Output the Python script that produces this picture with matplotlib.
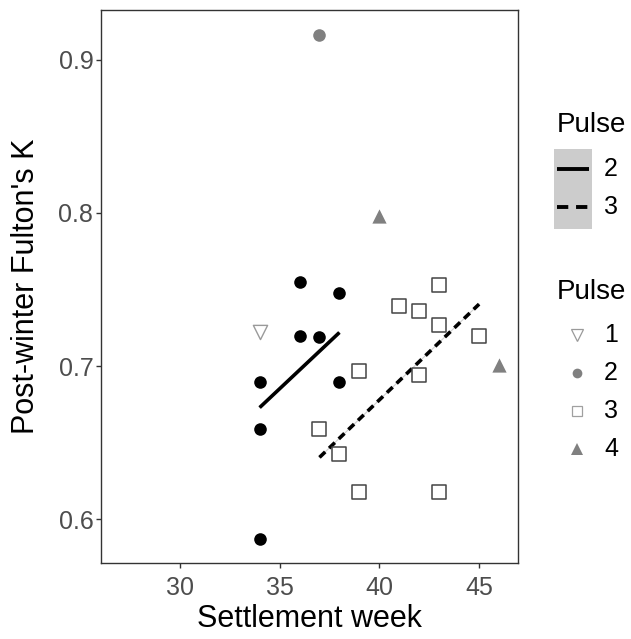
import matplotlib
matplotlib.use("Agg")
import matplotlib.pyplot as plt
from matplotlib.lines import Line2D
from matplotlib.patches import Rectangle

plt.rcParams['font.family'] = ['Liberation Sans', 'DejaVu Sans']

# points by pulse
p1_week = [34]
p1_k = [0.722]
p2_week = [34, 34, 34, 36, 36, 37, 38, 38]          # black, used in fit
p2_k = [0.587, 0.659, 0.690, 0.755, 0.720, 0.719, 0.748, 0.690]
p2_out_week = [37]                                   # grey, pulse 2
p2_out_k = [0.916]
p3_week = [37, 38, 39, 39, 41, 42, 42, 43, 43, 43, 45]
p3_k = [0.659, 0.643, 0.697, 0.618, 0.739, 0.736, 0.694, 0.753, 0.727, 0.618, 0.720]
p4_week = [40, 46]
p4_k = [0.798, 0.701]

# fitted lines
fit2_week = [34, 38]
fit2_k = [0.673, 0.722]
fit3_week = [37, 45]
fit3_k = [0.6405, 0.7405]

xticks = [30, 35, 40, 45]
yticks = [0.6, 0.7, 0.8, 0.9]

W, H = 631, 639
fig = plt.figure(figsize=(W / 100, H / 100), dpi=100)
ax = fig.add_axes([101 / W, 1 - 563 / H, 417 / W, 553 / H])

# regression lines
ax.plot(fit2_week, fit2_k, color='#d0d0d0', lw=0.8, zorder=2)
ax.plot(fit3_week, fit3_k, color='#d0d0d0', lw=0.8, zorder=2)
ax.plot(fit2_week, fit2_k, color='black', lw=2.6, solid_capstyle='butt', zorder=3)
ax.plot(fit3_week, fit3_k, color='black', lw=2.6, linestyle=(0, (2.2, 1.5)),
        dash_capstyle='butt', zorder=3)

# points
ax.scatter(p1_week, p1_k, marker='v', s=105, facecolor='white', edgecolor='#9a9a9a', lw=1.0, zorder=4)
ax.scatter(p2_week, p2_k, marker='o', s=82, color='black', lw=0, zorder=4)
ax.scatter(p2_out_week, p2_out_k, marker='o', s=82, color='#808080', lw=0, zorder=4)
ax.scatter(p3_week, p3_k, marker='s', s=88, facecolor='white', edgecolor='#444444', lw=1.1, zorder=4)
ax.scatter(p4_week, p4_k, marker='^', s=105, color='#808080', lw=0, zorder=4)

ax.set_xlim(26.05, 46.95)
ax.set_ylim(0.5716, 0.9324)
ax.set_xticks(xticks)
ax.set_yticks(yticks)
ax.set_yticklabels([f"{v:.1f}" for v in yticks])

for sp in ax.spines.values():
    sp.set_color('#333333')
    sp.set_linewidth(1.0)
ax.tick_params(length=3.5, width=1.0, color='#333333', labelcolor='#4d4d4d', labelsize=18)
ax.tick_params(axis='x', pad=6)
ax.tick_params(axis='y', pad=2)

ax.set_xlabel('Settlement week', fontsize=22, va='center')
ax.set_ylabel("Post-winter Fulton's K", fontsize=22, va='center')
ax.xaxis.set_label_coords(0.5, -0.101)
ax.yaxis.set_label_coords(-0.18, 0.5)


def fx(px):
    return px / W


def fy(py):
    return 1 - py / H


# legend 1: lines
fig.text(fx(557), fy(125), 'Pulse', fontsize=20, va='center', ha='left')
fig.add_artist(Rectangle((fx(554), fy(229)), 38 / W, 80 / H, transform=fig.transFigure,
                         facecolor='#cccccc', edgecolor='none'))
fig.add_artist(Line2D([fx(557), fx(589)], [fy(169), fy(169)], transform=fig.transFigure,
                      color='black', lw=2.8, solid_capstyle='butt'))
fig.add_artist(Line2D([fx(557), fx(589)], [fy(207), fy(207)], transform=fig.transFigure,
                      color='black', lw=2.8, linestyle=(0, (2.9, 2.0)), dash_capstyle='butt'))
fig.text(fx(604), fy(169), '2', fontsize=18, va='center', ha='left')
fig.text(fx(604), fy(207), '3', fontsize=18, va='center', ha='left')

# legend 2: shapes
fig.text(fx(557), fy(292), 'Pulse', fontsize=20, va='center', ha='left')
leg_labels = ['1', '2', '3', '4']
leg_y = [335, 373, 411, 449]
leg_style = [dict(marker='v', mfc='white', mec='#9a9a9a', ms=8, mew=0.9),
             dict(marker='o', mfc='#808080', mec='#808080', ms=7, mew=0),
             dict(marker='s', mfc='white', mec='#a0a0a0', ms=7, mew=0.9),
             dict(marker='^', mfc='#808080', mec='#808080', ms=8, mew=0)]
for lab, yy, st in zip(leg_labels, leg_y, leg_style):
    fig.add_artist(Line2D([fx(577)], [fy(yy)], transform=fig.transFigure, linestyle='none', **st))
    fig.text(fx(604), fy(yy), lab, fontsize=18, va='center', ha='left')

fig.savefig('out.png', dpi=100)
